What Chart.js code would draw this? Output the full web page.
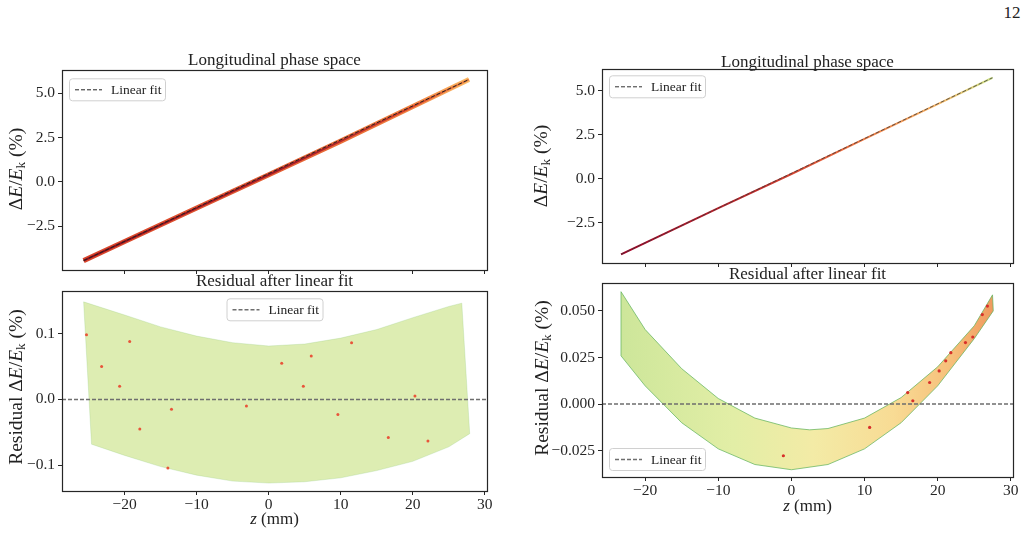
<!DOCTYPE html>
<html>
<head>
<meta charset="utf-8">
<script src="https://cdn.jsdelivr.net/npm/chart.js@4.4.1/dist/chart.umd.min.js"></script>
<style>
  body { margin: 0; width: 1027px; height: 543px; background: #fff; position: relative; overflow: hidden; font-family: 'Liberation Serif', serif; color: #222; }
  canvas { position: absolute; }
  .t { position: absolute; white-space: nowrap; transform: translate(-50%, -50%); font-size: 17px; }
  .yl { position: absolute; white-space: nowrap; transform: translate(-50%, -50%) rotate(-90deg); font-size: 19.5px; }
  sub { font-size: 0.68em; vertical-align: -0.25em; line-height: 0; }
</style>
</head>
<body>
<canvas id="tl"></canvas>
<canvas id="bl"></canvas>
<canvas id="tr"></canvas>
<canvas id="br"></canvas>

<div class="t" style="left:1012px;top:13px">12</div>

<div class="t" style="left:274.5px;top:59.5px">Longitudinal phase space</div>
<div class="t" style="left:274.5px;top:281px">Residual after linear fit</div>
<div class="t" style="left:807.5px;top:61.5px">Longitudinal phase space</div>
<div class="t" style="left:807.5px;top:274px">Residual after linear fit</div>

<div class="t" style="left:274.5px;top:519px"><i>z</i> (mm)</div>
<div class="t" style="left:807.5px;top:506px"><i>z</i> (mm)</div>

<div class="yl" style="left:16px;top:169px">Δ<i>E</i>/<i>E</i><sub>k</sub> (%)</div>
<div class="yl" style="left:16px;top:387px">Residual Δ<i>E</i>/<i>E</i><sub>k</sub> (%)</div>
<div class="yl" style="left:541px;top:166px">Δ<i>E</i>/<i>E</i><sub>k</sub> (%)</div>
<div class="yl" style="left:542px;top:378px">Residual Δ<i>E</i>/<i>E</i><sub>k</sub> (%)</div>

<script>
// axis limits
const zLimLeft = [-28.7, 30.3]
const zLimRight = [-25.9, 30.3]
const phaseLimLeft = [-4.98, 6.3]
const phaseLimRight = [-4.77, 6.22]
const residLimLeft = [-0.139, 0.164]
const residLimRight = [-0.0391, 0.0648]

// longitudinal phase space, left case
const phaseLeftZ = [-25.7, -20, -10, 0, 10, 20, 27.8]
const phaseLeftE = [-4.45, -3.37, -1.48, 0.40, 2.30, 4.25, 5.78]
const fitLeftZ = [-25.7, 27.8]
const fitLeftE = [-4.45, 5.78]

// longitudinal phase space, right case
const phaseRightZ = [-23.3, -10, 0, 10, 20, 27.5]
const phaseRightE = [-4.28, -1.66, 0.28, 2.27, 4.24, 5.74]
const fitRightZ = [-23.3, 27.5]
const fitRightE = [-4.28, 5.74]

// residual band edges, left case
const residLeftUpperZ = [-25.7, -20, -15, -10, -5, 0, 5, 10, 15, 20, 25, 26.8]
const residLeftUpper = [0.148, 0.128, 0.110, 0.096, 0.086, 0.081, 0.084, 0.093, 0.106, 0.124, 0.141, 0.146]
const residLeftLowerZ = [-24.6, -20, -15, -10, -5, 0, 5, 10, 15, 20, 25, 27.9]
const residLeftLower = [-0.068, -0.085, -0.102, -0.115, -0.124, -0.127, -0.125, -0.119, -0.108, -0.094, -0.072, -0.052]
// a few dense (red) cells
const hotLeftZ = [-25.3, -19.3, 4.8, -20.7, -17.9, -14.0, -13.5, 11.5, 22.1, -3.1, 20.3, 5.9, 9.6, -23.2, 1.8, 16.6]
const hotLeftR = [0.098, 0.088, 0.020, 0.020, -0.045, -0.104, -0.015, 0.086, -0.063, -0.010, 0.005, 0.066, -0.023, 0.050, 0.055, -0.058]

// residual band edges, right case
const residRightUpperZ = [-23.3, -20, -15, -10, -5, 0, 2.5, 5, 10, 15, 20, 25, 27.5]
const residRightUpper = [0.0603, 0.040, 0.019, 0.003, -0.0075, -0.0128, -0.0138, -0.0131, -0.0075, 0.0035, 0.0200, 0.0420, 0.0586]
const residRightLowerZ = [-23.3, -20, -15, -10, -5, 0, 5, 10, 15, 20, 25, 27.6]
const residRightLower = [0.0259, 0.0098, -0.0100, -0.0240, -0.0324, -0.0352, -0.0324, -0.0240, -0.0100, 0.0098, 0.0351, 0.0500]
const hotRightZ = [26.1, 26.8, 24.8, 21.1, 23.8, 20.2, 21.8, 18.9, 16.6, 15.9, -1.1, 10.7]
const hotRightR = [0.048, 0.0526, 0.036, 0.0232, 0.0330, 0.0178, 0.0276, 0.0116, 0.0018, 0.0062, -0.0277, -0.0125]

const FONT = 'Liberation Serif'
const Wy = 60, Hx = 30, PAD = 12

const pts = (xs, ys) => xs.map((x, i) => ({ x, y: ys[i] }))
const band = (uz, u, lz, l) => {
  const up = pts(uz, u)
  const low = pts(lz, l).reverse()
  return [...up, ...low, up[0]]
}
const fmt = d => v => (Math.abs(v) < 1e-9 ? 0 : v).toFixed(d).replace('-', '\u2212')

// gradient along the z axis, stops given in data units
const zGradient = (stops, fallback) => (ctx) => {
  const chart = ctx.chart
  const x = chart.scales.x
  if (!chart.chartArea || !x) return fallback
  const z0 = stops[0][0], z1 = stops[stops.length - 1][0]
  const g = chart.ctx.createLinearGradient(x.getPixelForValue(z0), 0, x.getPixelForValue(z1), 0)
  stops.forEach(([z, c]) => g.addColorStop((z - z0) / (z1 - z0), c))
  return g
}

const mplFrame = {
  id: 'mplFrame',
  afterDraw(chart) {
    const { ctx, chartArea: a } = chart
    const opts = chart.options.plugins.mplLegend
    ctx.save()
    ctx.strokeStyle = '#262626'
    ctx.lineWidth = 1.2
    ctx.strokeRect(Math.round(a.left) + 0.5, Math.round(a.top) + 0.5, Math.round(a.right - a.left), Math.round(a.bottom - a.top))

    // matplotlib-like legend box
    const w = 96, h = 22
    let x = a.left + 7, y = a.top + opts.dy
    if (opts.place === 'top') { x = (a.left + a.right) / 2 - w / 2 }
    if (opts.place === 'lowerLeft') { y = a.bottom - opts.dy - h }
    ctx.fillStyle = 'rgba(255,255,255,0.85)'
    ctx.strokeStyle = '#d0d0d0'
    ctx.lineWidth = 1
    ctx.beginPath()
    ctx.roundRect(x + 0.5, y + 0.5, w, h, 3)
    ctx.fill()
    ctx.stroke()
    const cy = y + h / 2 + 0.5
    ctx.strokeStyle = opts.color
    ctx.lineWidth = opts.width
    ctx.setLineDash([4, 2])
    ctx.beginPath()
    ctx.moveTo(x + 6, cy)
    ctx.lineTo(x + 33, cy)
    ctx.stroke()
    ctx.setLineDash([])
    ctx.fillStyle = '#222'
    ctx.font = `13.5px ${FONT}`
    ctx.textBaseline = 'middle'
    ctx.fillText('Linear fit', x + 42, cy + 1)
    ctx.restore()
  }
}

const axis = (lim, step, dec, showLabels, kind) => ({
  type: 'linear',
  min: lim[0],
  max: lim[1],
  border: { display: false },
  grid: { display: true, drawOnChartArea: false, drawTicks: true, tickLength: 4, color: '#262626', lineWidth: 1 },
  ticks: {
    stepSize: step, includeBounds: false, display: showLabels, padding: kind === 'x' ? 1 : 3, color: '#262626',
    font: { family: FONT, size: 15.5 }, callback: fmt(dec), maxRotation: 0, autoSkip: false
  },
  afterFit: s => { if (kind === 'x') s.height = Hx; else s.width = Wy }
})

function panel(id, box, cfg) {
  const [L, T, R, B] = box
  const cv = document.getElementById(id)
  cv.width = Wy + (R - L) + PAD
  cv.height = PAD + (B - T) + Hx
  cv.style.left = (L - Wy) + 'px'
  cv.style.top = (T - PAD) + 'px'
  return new Chart(cv, {
    type: 'scatter',
    data: { datasets: cfg.datasets },
    options: {
      responsive: false,
      animation: false,
      devicePixelRatio: 1,
      layout: { padding: { top: PAD, right: PAD, left: 0, bottom: 0 } },
      elements: { point: { radius: 0 }, line: { tension: 0 } },
      plugins: { legend: { display: false }, tooltip: { enabled: false }, mplLegend: cfg.legend },
      scales: {
        x: axis(cfg.xlim, 10, 0, cfg.xlabels, 'x'),
        y: axis(cfg.ylim, cfg.ystep, cfg.ydec, true, 'y')
      }
    },
    plugins: [mplFrame]
  })
}

const fitLine = (xs, ys, color, width) => ({
  data: pts(xs, ys), showLine: true, borderColor: color, borderWidth: width, borderDash: [4, 2], order: 0
})

// top left
panel('tl', [62, 70, 487, 270], {
  xlim: zLimLeft, ylim: phaseLimLeft, ystep: 2.5, ydec: 1, xlabels: false,
  legend: { place: 'upperLeft', dy: 8, color: '#222', width: 1 },
  datasets: [
    fitLine(fitLeftZ, fitLeftE, '#222', 1),
    { data: pts(phaseLeftZ, phaseLeftE), showLine: true, borderWidth: 2, order: 1,
      borderColor: zGradient([[-26, '#8c0d1f'], [5, '#a81c28'], [20, '#d3402c'], [28, '#f08a45']], '#a01a25') },
    { data: pts(phaseLeftZ, phaseLeftE), showLine: true, borderWidth: 5, order: 2,
      borderColor: zGradient([[-26, '#d9452b'], [0, '#e45c32'], [20, '#f2813f'], [28, '#fcc06a']], '#ec6c3a') }
  ]
})

// bottom left
panel('bl', [62, 291, 487, 491], {
  xlim: zLimLeft, ylim: residLimLeft, ystep: 0.1, ydec: 1, xlabels: true,
  legend: { place: 'top', dy: 7, color: '#6e6e6e', width: 1.5 },
  datasets: [
    fitLine(zLimLeft, [0, 0], '#6e6e6e', 1.5),
    { data: pts(hotLeftZ, hotLeftR), pointRadius: 1.5, pointBorderWidth: 0, backgroundColor: '#e8553a', order: 1 },
    { data: band(residLeftUpperZ, residLeftUpper, residLeftLowerZ, residLeftLower), showLine: true, fill: 'shape',
      borderWidth: 0.5, borderColor: 'rgba(140,200,120,0.5)', backgroundColor: 'rgb(221,237,178)', order: 2 }
  ]
})

// top right
panel('tr', [602, 69, 1013, 263], {
  xlim: zLimRight, ylim: phaseLimRight, ystep: 2.5, ydec: 1, xlabels: false,
  legend: { place: 'upperLeft', dy: 6, color: '#333', width: 1 },
  datasets: [
    fitLine(fitRightZ, fitRightE, 'rgba(60,60,60,0.8)', 1),
    { data: pts(phaseRightZ, phaseRightE), showLine: true, borderWidth: 2, order: 1,
      borderColor: zGradient([[-23.3, '#a50026'], [-5, '#c62a2a'], [8, '#f0703e'], [20, '#fbb868'], [27.5, '#cfe58a']], '#d04030') }
  ]
})

// bottom right
panel('br', [602, 283, 1013, 477], {
  xlim: zLimRight, ylim: residLimRight, ystep: 0.025, ydec: 3, xlabels: true,
  legend: { place: 'lowerLeft', dy: 7, color: '#6e6e6e', width: 1.5 },
  datasets: [
    fitLine(zLimRight, [0, 0], '#6e6e6e', 1.5),
    { data: pts(hotRightZ, hotRightR), pointRadius: 1.6, pointBorderWidth: 0, backgroundColor: '#d7302a', order: 1 },
    { data: band(residRightUpperZ, residRightUpper, residRightLowerZ, residRightLower), showLine: true, fill: 'shape',
      borderWidth: 1, borderColor: 'rgba(100,180,95,0.75)', order: 2,
      backgroundColor: zGradient([[-23.3, '#cde69a'], [-8, '#e2eea6'], [3, '#f3eba6'], [14, '#f8db94'], [22, '#f6bf7a'], [27.6, '#f0995e']], '#eee8a0') }
  ]
})
</script>
</body>
</html>
